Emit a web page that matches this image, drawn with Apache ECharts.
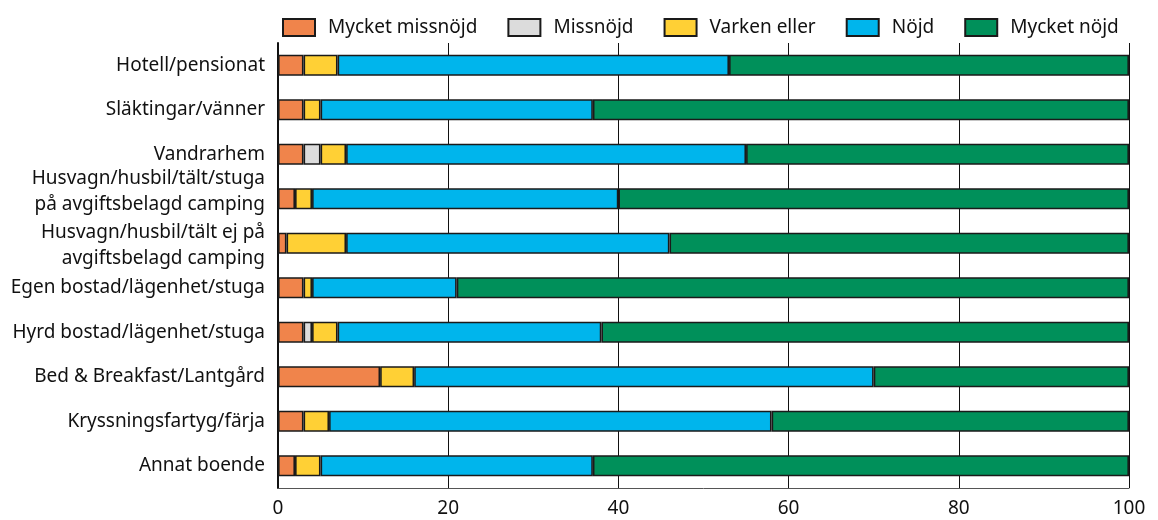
<!DOCTYPE html>
<html>
<head>
<meta charset="utf-8">
<script src="https://cdn.jsdelivr.net/npm/echarts@6/dist/echarts.min.js"></script>
<style>
  html, body { margin: 0; padding: 0; background: #fff; }
  #chart { width: 1158px; height: 520px; }
</style>
</head>
<body>
<div id="chart"></div>
<script>
// Accommodation types, top to bottom
const categories = [
  'Hotell/pensionat',
  'Släktingar/vänner',
  'Vandrarhem',
  'Husvagn/husbil/tält/stuga\npå avgiftsbelagd camping',
  'Husvagn/husbil/tält ej på\navgiftsbelagd camping',
  'Egen bostad/lägenhet/stuga',
  'Hyrd bostad/lägenhet/stuga',
  'Bed & Breakfast/Lantgård',
  'Kryssningsfartyg/färja',
  'Annat boende'
];

// Share of respondents (%) per satisfaction level
const mycketMissnojd = [3, 3, 3, 2, 1, 3, 3, 12, 3, 2];
const missnojd       = [0, 0, 2, 0, 0, 0, 1, 0, 0, 0];
const varkenEller    = [4, 2, 3, 2, 7, 1, 3, 4, 3, 3];
const nojd           = [46, 32, 47, 36, 38, 17, 31, 54, 52, 32];
const mycketNojd     = [47, 63, 45, 60, 54, 79, 62, 30, 42, 63];

const xTicks = [0, 20, 40, 60, 80, 100];

const levels = [
  { name: 'Mycket missnöjd', data: mycketMissnojd, color: '#F0844B' },
  { name: 'Missnöjd',        data: missnojd,       color: '#DCDCDC' },
  { name: 'Varken eller',    data: varkenEller,    color: '#FFD035' },
  { name: 'Nöjd',            data: nojd,           color: '#00B5EC' },
  { name: 'Mycket nöjd',     data: mycketNojd,     color: '#00905A' }
];

const FONT = 'Noto Sans';
const FS = 19;

// Two-line labels: a thin spacer line nudges the block up or down
function categoryLabel(value, index) {
  if (value.indexOf('\n') < 0) return value;
  const lines = value.split('\n').map(s => '{t|' + s + '}');
  if (index === 3) return lines.join('\n') + '\n{sb| }';
  return '{st| }\n' + lines.join('\n');
}

const chart = echarts.init(document.getElementById('chart'), null, { renderer: 'canvas' });

chart.setOption({
  animation: false,
  textStyle: { fontFamily: FONT },
  legend: {
    left: 277,
    top: 13,
    icon: 'rect',
    itemWidth: 32,
    itemHeight: 17,
    itemGap: 30,
    textStyle: { fontFamily: FONT, fontSize: FS, color: '#111', padding: [0, 0, 0, 8] },
    data: levels.map(l => l.name)
  },
  grid: { left: 278, right: 29, top: 43, bottom: 32, containLabel: false },
  xAxis: {
    type: 'value',
    min: 0,
    max: 100,
    interval: 20,
    axisLine: { show: true, lineStyle: { color: '#555', width: 1 } },
    axisTick: { show: false },
    splitLine: { show: true, lineStyle: { color: '#111', width: 1 } },
    axisLabel: {
      fontFamily: FONT, fontSize: FS, color: '#111', margin: 11,
      formatter: v => (xTicks.includes(v) ? String(v) : '')
    }
  },
  yAxis: {
    type: 'category',
    inverse: true,
    data: categories,
    axisLine: { show: true, lineStyle: { color: '#111', width: 2 } },
    axisTick: { show: false },
    axisLabel: {
      fontFamily: FONT, fontSize: FS, color: '#111', margin: 13,
      lineHeight: 26, align: 'right',
      formatter: categoryLabel,
      rich: {
        t: { fontFamily: FONT, fontSize: FS, color: '#111', lineHeight: 26, align: 'right' },
        sb: { fontSize: 1, lineHeight: 14 },
        st: { fontSize: 1, lineHeight: 5 }
      }
    }
  },
  series: levels.map(l => ({
    name: l.name,
    type: 'bar',
    stack: 'total',
    barWidth: 21,
    data: l.data.map(v => (v === 0 ? '-' : v)),
    itemStyle: { color: l.color, borderColor: '#1a1a1a', borderWidth: 1.6 },
    emphasis: { disabled: true }
  }))
});
</script>
</body>
</html>
